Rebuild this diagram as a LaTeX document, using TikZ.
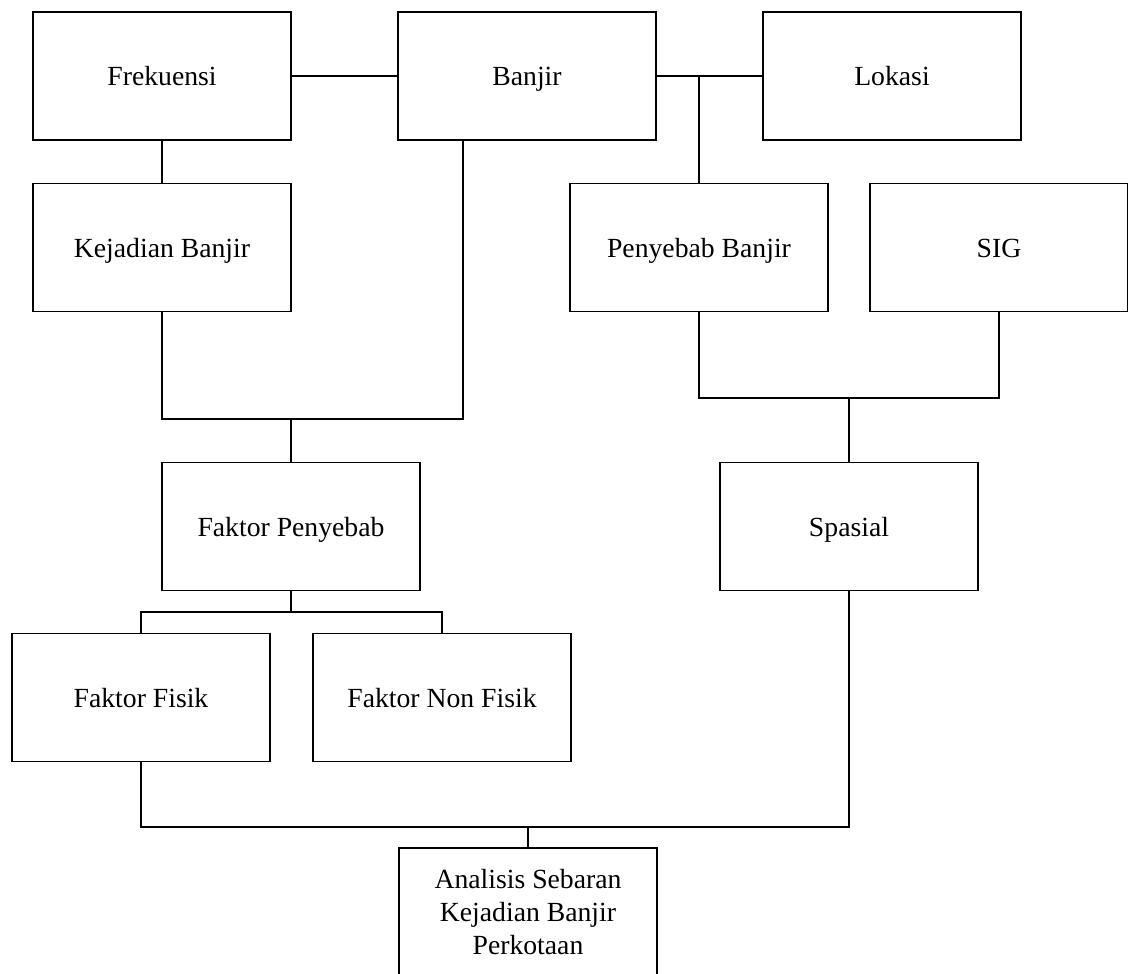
\documentclass[tikz,border=0pt]{standalone}
\usepackage{fontspec}
\setmainfont{Liberation Serif}
\begin{document}
\begin{tikzpicture}[x=1pt,y=-1pt,
  box/.style={draw, line width=1.6pt, minimum width=258pt, minimum height=128pt, inner sep=0pt, align=center, font=\fontsize{27.7}{33}\selectfont},
  one/.style={box, text height=19pt, text depth=0pt},
  conn/.style={line width=1.6pt}]
\useasboundingbox (0,0) rectangle (1128,974);
\node[one] (fre) at (162,76) {Frekuensi};
\node[one] (ban) at (527,76) {Banjir};
\node[one] (lok) at (892,76) {Lokasi};
\node[one] (kej) at (162,247.5) {Kejadian Banjir};
\node[one] (pen) at (699,247.5) {Penyebab Banjir};
\node[one] (sig) at (999,247.5) {SIG};
\node[one] (fp) at (291,526.5) {Faktor Penyebab};
\node[one] (spa) at (849,526.5) {Spasial};
\node[one] (ff) at (141,697.5) {Faktor Fisik};
\node[one] (fnf) at (442,697.5) {Faktor Non Fisik};
\node[box] (ana) at (528,912) {Analisis Sebaran\\Kejadian Banjir\\Perkotaan};
\coordinate (bs) at (463,140);
\coordinate (j1) at (291,419);
\coordinate (j2) at (849,398);
\coordinate (j3) at (291,612);
\coordinate (j4) at (528,827);
\draw[conn] (fre.east) -- (ban.west);
\draw[conn] (ban.east) -- (lok.west);
\draw[conn] (pen.north) -- (pen.north |- ban.east);
\draw[conn] (fre.south) -- (kej.north);
\draw[conn] (kej.south) |- (j1) -| (bs);
\draw[conn] (fp.north) -- (j1);
\draw[conn] (pen.south) |- (j2) -| (sig.south);
\draw[conn] (spa.north) -- (j2);
\draw[conn] (fp.south) -- (j3);
\draw[conn] (ff.north) |- (j3) -| (fnf.north);
\draw[conn] (ff.south) |- (j4) -| (spa.south);
\draw[conn] (ana.north) -- (j4);
\end{tikzpicture}
\end{document}
